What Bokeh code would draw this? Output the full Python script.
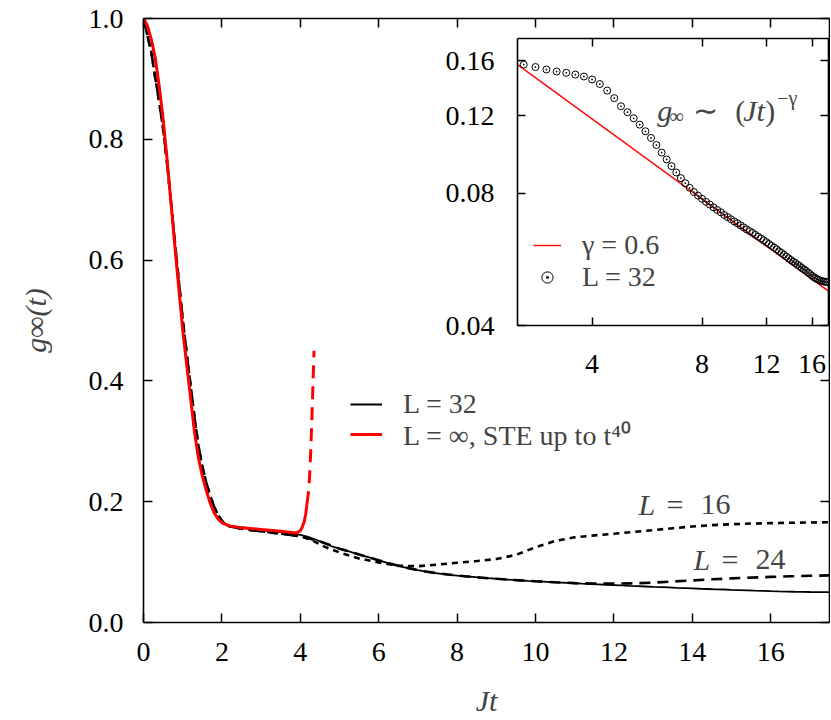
import numpy as np
from bokeh.plotting import figure
from bokeh.models import (Range1d, LinearAxis, LogAxis, FixedTicker, PrintfTickFormatter,
                          CustomJSTickFormatter, Legend, LegendItem, Label)
from bokeh.layouts import column
from bokeh.embed import file_html
from bokeh.resources import INLINE

FONT = "Liberation Serif"

# ---------------- data ----------------
# L = infinity, series expansion (solid part, then diverging dashed part)
t_inf = [0.0, 0.1, 0.2, 0.3, 0.4, 0.5, 0.6, 0.7, 0.8, 0.9, 1.0, 1.1, 1.2, 1.3, 1.4,
         1.5, 1.6, 1.7, 1.8, 1.9, 2.0, 2.2, 2.5, 3.0, 3.5, 3.9, 4.0, 4.05, 4.1, 4.14, 4.17]
g_inf = [1.0, 0.988, 0.965, 0.935, 0.888, 0.834, 0.768, 0.696, 0.623, 0.554, 0.485, 0.428,
         0.373, 0.316, 0.273, 0.243, 0.219, 0.198, 0.182, 0.172, 0.165, 0.160, 0.157, 0.154,
         0.151, 0.148, 0.152, 0.158, 0.167, 0.180, 0.196]
t_inf_div = [4.17, 4.22, 4.26, 4.30, 4.35]
g_inf_div = [0.196, 0.222, 0.274, 0.346, 0.450]

# L = 32 : fine grid up to Jt = 2, then every 0.2
t_L32 = list(np.round(np.arange(0.0, 2.05, 0.1), 2)) + list(np.round(np.arange(2.2, 17.65, 0.2), 2))
g_L32 = [1.000, 0.988, 0.965, 0.935, 0.888, 0.834, 0.768, 0.696, 0.623, 0.554, 0.485,
         0.428, 0.373, 0.316, 0.273, 0.243, 0.219, 0.198, 0.182, 0.172, 0.165,
         0.160, 0.158, 0.157, 0.155, 0.153, 0.1514, 0.1504, 0.1490, 0.1475, 0.1452,
         0.1418, 0.1370, 0.1317, 0.1262, 0.1223, 0.1185, 0.1146, 0.1107, 0.1069, 0.1030,
         0.0990, 0.0955, 0.0922, 0.0892, 0.0866, 0.0843, 0.0823, 0.0805, 0.0790, 0.0777,
         0.0765, 0.0754, 0.0743, 0.0733, 0.0724, 0.0714, 0.0706, 0.0698, 0.0690, 0.0683,
         0.0676, 0.0669, 0.0662, 0.0656, 0.0650, 0.0643, 0.0637, 0.0631, 0.0625, 0.0619,
         0.0613, 0.0607, 0.0602, 0.0596, 0.0590, 0.0585, 0.0580, 0.0574, 0.0569, 0.0564,
         0.0559, 0.0555, 0.0550, 0.0546, 0.0541, 0.0537, 0.0533, 0.0528, 0.0524, 0.0519,
         0.0515, 0.0512, 0.0509, 0.0507, 0.0505, 0.0504, 0.0503, 0.0502]

# L = 24 (dashed)
t_L24 = [0.0, 0.1, 0.2, 0.3, 0.4, 0.5, 0.6, 0.7, 0.8, 0.9, 1.0, 1.1, 1.2, 1.3, 1.4, 1.5,
         1.6, 1.7, 1.8, 1.9, 2.0, 2.1, 2.2, 2.6, 3.0, 3.5, 4.0, 4.5, 5.0, 5.5, 6.0, 6.5,
         7.0, 7.5, 8.0, 8.5, 9.0, 9.5, 10.0, 10.5, 11.0, 11.5, 12.0, 12.5, 13.0, 13.5,
         14.0, 14.5, 15.0, 15.5, 16.0, 16.5, 17.0, 17.5]
g_L24 = [1.0, 0.972, 0.944, 0.902, 0.862, 0.818, 0.762, 0.697, 0.630, 0.566, 0.502,
         0.446, 0.393, 0.340, 0.293, 0.258, 0.232, 0.210, 0.192, 0.178, 0.168, 0.162,
         0.159, 0.154, 0.151, 0.147, 0.143, 0.1343, 0.1223, 0.1127, 0.1030, 0.0938,
         0.0866, 0.0814, 0.0777, 0.0748, 0.0724, 0.0702, 0.0683, 0.0666, 0.0652, 0.0645,
         0.0643, 0.0648, 0.0660, 0.0678, 0.0697, 0.0715, 0.0730, 0.0743, 0.0755, 0.0765,
         0.0773, 0.0780]

# L = 16 (dotted)
t_L16 = [0.0, 0.1, 0.2, 0.3, 0.4, 0.5, 0.6, 0.7, 0.8, 0.9, 1.0, 1.1, 1.2, 1.3, 1.4, 1.5,
         1.6, 1.7, 1.8, 1.9, 2.0, 2.1, 2.2, 2.6, 3.0, 3.5, 4.0, 4.3, 4.6, 5.0, 5.5, 6.0,
         6.5, 7.0, 7.5, 8.0, 8.5, 9.0, 9.5, 10.0, 10.5, 11.0, 11.5, 12.0, 12.5, 13.0,
         13.5, 14.0, 14.5, 15.0, 15.5, 16.0, 16.5, 17.0, 17.5]
g_L16 = [1.0, 0.972, 0.944, 0.902, 0.862, 0.818, 0.762, 0.697, 0.630, 0.566, 0.502,
         0.446, 0.393, 0.340, 0.293, 0.258, 0.232, 0.210, 0.192, 0.178, 0.168, 0.162,
         0.159, 0.154, 0.151, 0.147, 0.143, 0.136, 0.126, 0.116, 0.106, 0.0995, 0.0940,
         0.0932, 0.0958, 0.0990, 0.1018, 0.1050, 0.1120, 0.1245, 0.1350, 0.1410, 0.1442,
         0.1470, 0.1500, 0.1530, 0.1560, 0.1590, 0.1612, 0.1627, 0.1638, 0.1645, 0.1651,
         0.1656, 0.1660]

# inset: power-law guide (gamma = 0.6) end points
t_fit = [2.5, 17.75]
g_fit = [0.157, 0.0479]

x_ticks = [0, 2, 4, 6, 8, 10, 12, 14, 16]
y_ticks = [0.0, 0.2, 0.4, 0.6, 0.8, 1.0]
inset_x_ticks = [4, 8, 12, 16]
inset_y_ticks = [0.04, 0.08, 0.12, 0.16]

RED = "#ff0000"
BORDER_L = 143   # shared left border (column aligns plot borders)


def style_axis(ax, tick_in):
    ax.axis_line_width = 1.6
    ax.major_tick_line_width = 1.5
    ax.major_tick_in = tick_in
    ax.major_tick_out = 0
    ax.minor_tick_line_color = None
    ax.major_label_text_font = FONT
    ax.major_label_text_font_size = "28px"
    ax.major_label_text_color = "black"
    ax.axis_label_text_font = FONT
    ax.axis_label_text_font_size = "30px"
    ax.axis_label_text_font_style = "italic"


def blank_axis(ax):
    ax.formatter = CustomJSTickFormatter(code="return ''")
    ax.major_label_text_font_size = "0px"
    ax.major_label_standoff = 0


# ---------------- main figure ----------------
p = figure(frame_width=686, frame_height=604, x_range=Range1d(0, 17.5), y_range=Range1d(0, 1),
           output_backend="svg", toolbar_location=None,
           min_border_left=BORDER_L, min_border_right=1, min_border_top=18, min_border_bottom=96,
           outline_line_color=None, background_fill_color="white", border_fill_color="white")
p.grid.visible = False
xt = LinearAxis(ticker=FixedTicker(ticks=x_ticks))
yr = LinearAxis(ticker=FixedTicker(ticks=y_ticks))
p.add_layout(xt, "above")
p.add_layout(yr, "right")
xb = p.below[0]
yl = p.left[0]
for ax in (xb, yl, xt, yr):
    style_axis(ax, 9)
blank_axis(xt)
blank_axis(yr)

xb.ticker = FixedTicker(ticks=x_ticks)
xb.major_label_standoff = 20
xb.axis_label = "Jt"
xb.axis_label_standoff = 20
yl.ticker = FixedTicker(ticks=y_ticks)
yl.formatter = PrintfTickFormatter(format="%.1f")
yl.major_label_standoff = 20
yl.axis_label = "g∞(t)"
yl.axis_label_standoff = 34

r16 = p.line(t_L16, g_L16, line_color="black", line_width=2.6, line_dash="6 5")
r24 = p.line(t_L24, g_L24, line_color="black", line_width=2.6, line_dash="11 7")
r32 = p.line(t_L32, g_L32, line_color="black", line_width=1.8)
rinf = p.line(t_inf, g_inf, line_color=RED, line_width=3)
p.line(t_inf_div, g_inf_div, line_color=RED, line_width=3, line_dash="13 8")

# legend: one entry per Legend so that the row pitch can be set exactly
for label, rend, ybot in [("L = 32", r32, 202), ("L = ∞, STE up to t⁴⁰", rinf, 169)]:
    p.add_layout(Legend(items=[LegendItem(label=label, renderers=[rend])],
                        location=(207, ybot), padding=0, margin=0, spacing=0,
                        glyph_width=32, glyph_height=28, label_height=28, label_standoff=21,
                        label_text_font=FONT, label_text_font_size="28px",
                        border_line_color=None, background_fill_alpha=0))

# curve labels
for (lx, ly, parts) in [(12.63, 0.195, [("L", 0, "italic"), ("=", 28, "normal"), ("16", 62, "normal")]),
                        (14.03, 0.104, [("L", 0, "italic"), ("=", 28, "normal"), ("24", 62, "normal")])]:
    for txt, off, style in parts:
        p.add_layout(Label(x=lx, y=ly, x_offset=off, text=txt, text_font=FONT,
                           text_font_size="30px", text_font_style=style,
                           text_baseline="alphabetic", text_align="left"))

# ---------------- inset ----------------
ins = figure(frame_width=311, frame_height=287, x_axis_type="log", y_axis_type="log",
             x_range=Range1d(2.5, 17.75), y_range=Range1d(0.04, 0.18),
             output_backend="svg", toolbar_location=None,
             min_border_left=BORDER_L, min_border_right=1, min_border_top=5, min_border_bottom=72,
             outline_line_color=None, background_fill_color="white", border_fill_color=None)
ins.grid.visible = False
ixt = LogAxis(ticker=FixedTicker(ticks=inset_x_ticks))
iyr = LogAxis(ticker=FixedTicker(ticks=inset_y_ticks))
ins.add_layout(ixt, "above")
ins.add_layout(iyr, "right")
ixb = ins.below[0]
iyl = ins.left[0]
for ax in (ixb, iyl, ixt, iyr):
    style_axis(ax, 8)
blank_axis(ixt)
blank_axis(iyr)
ixb.ticker = FixedTicker(ticks=inset_x_ticks)
ixb.formatter = PrintfTickFormatter(format="%d")
ixb.major_label_standoff = 29
iyl.ticker = FixedTicker(ticks=inset_y_ticks)
iyl.formatter = PrintfTickFormatter(format="%.2f")
iyl.major_label_standoff = 23

rfit = ins.line(t_fit, g_fit, line_color=RED, line_width=1.4)
sel = [i for i, t in enumerate(t_L32) if t > 2.5]
rc = ins.scatter([t_L32[i] for i in sel], [g_L32[i] for i in sel], marker="circle_dot",
                 size=7, line_color="black", line_width=1, fill_color=None)

leg2 = Legend(items=[LegendItem(label="γ = 0.6", renderers=[rfit]),
                     LegendItem(label="L = 32", renderers=[rc])],
              location=(16, 32), padding=0, margin=0, spacing=0,
              glyph_width=28, glyph_height=30, label_height=30, label_standoff=21,
              label_text_font=FONT, label_text_font_size="28px",
              border_line_color=None, background_fill_alpha=0)
ins.add_layout(leg2)

ax0, ay0 = 6.03, 0.1174
for txt, off, yoff, size, style in [("g", 0, 10, "30px", "italic"),
                                    ("∞", 12, 4, "20px", "normal"),
                                    ("∼", 36, 10, "30px", "normal"),
                                    ("(", 78, 10, "30px", "normal"),
                                    ("Jt", 86, 10, "30px", "italic"),
                                    (")", 108, 10, "30px", "normal"),
                                    ("−γ", 120, 22, "20px", "normal")]:
    ins.add_layout(Label(x=ax0, y=ay0, x_offset=off, y_offset=yoff, text=txt, text_font=FONT,
                         text_font_size=size, text_font_style=style,
                         text_baseline="alphabetic", text_align="left"))

ins.styles = {"position": "absolute", "left": f"{517 - BORDER_L}px", "top": "33px"}

layout = column(p, ins)
layout.styles = {"position": "relative"}

open("out.html", "w").write(file_html(layout, INLINE))
